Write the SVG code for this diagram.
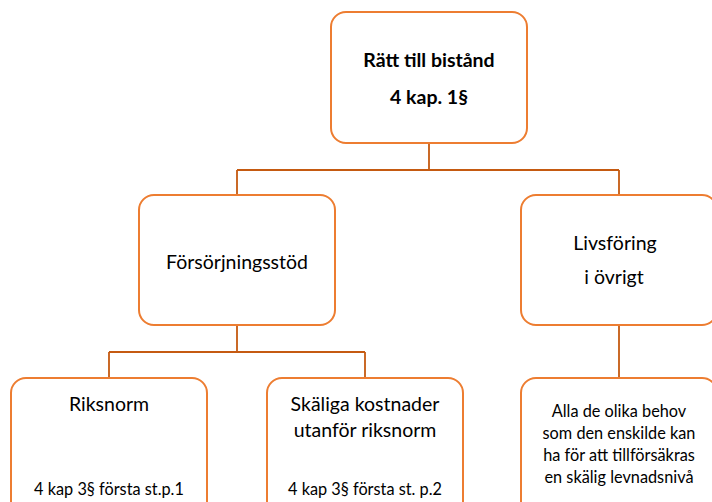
<svg xmlns="http://www.w3.org/2000/svg" width="712" height="502" viewBox="0 0 712 502">
<style>
.box{fill:#fff;stroke:#ED7D31;stroke-width:2}
.t{font-family:Lato,"Liberation Sans",sans-serif;fill:#000;text-anchor:middle}
.b{font-weight:bold;font-size:19.5px}
.m{font-size:19.5px}
.s{font-size:16.3px}
.c{fill:none;stroke:#C55A11;stroke-width:1.8}
</style>
<rect width="712" height="502" fill="#fff"/>
<g id="connectors">
<path class="c" d="M429,143 V170 M237,170 H619 M237,170 V195 M619,170 V195"/>
<path class="c" d="M237,325 V352 M109,352 H365 M109,352 V378 M365,352 V378"/>
<path class="c" d="M619,325 V378"/>
</g>
<g id="root">
<rect class="box" x="331" y="12" width="196" height="131" rx="15"/>
<text class="t b" x="429" y="67">Rätt till bistånd</text>
<text class="t b" x="429" y="104">4 kap. 1§</text>
</g>
<g id="forsorjning">
<rect class="box" x="139" y="195" width="196" height="130" rx="15"/>
<text class="t m" x="237" y="269">Försörjningsstöd</text>
</g>
<g id="livsforing">
<rect class="box" x="521" y="195" width="196" height="130" rx="15"/>
<text class="t m" x="615" y="250">Livsföring</text>
<text class="t m" x="614" y="284">i övrigt</text>
</g>
<g id="riksnorm">
<rect class="box" x="11" y="378" width="196" height="140" rx="15"/>
<text class="t m" x="109" y="411">Riksnorm</text>
<text class="t s" x="109" y="495">4 kap 3§ första st.p.1</text>
</g>
<g id="skaliga">
<rect class="box" x="267" y="378" width="196" height="140" rx="15"/>
<text class="t m" x="365" y="411">Skäliga kostnader</text>
<text class="t m" x="365" y="437">utanför riksnorm</text>
<text class="t s" x="365" y="495">4 kap 3§ första st. p.2</text>
</g>
<g id="alla">
<rect class="box" x="521" y="378" width="196" height="140" rx="15"/>
<text class="t s" x="619" y="417">Alla de olika behov</text>
<text class="t s" x="619" y="439">som den enskilde kan</text>
<text class="t s" x="619" y="461">ha för att tillförsäkras</text>
<text class="t s" x="619" y="483">en skälig levnadsnivå</text>
</g>
</svg>
